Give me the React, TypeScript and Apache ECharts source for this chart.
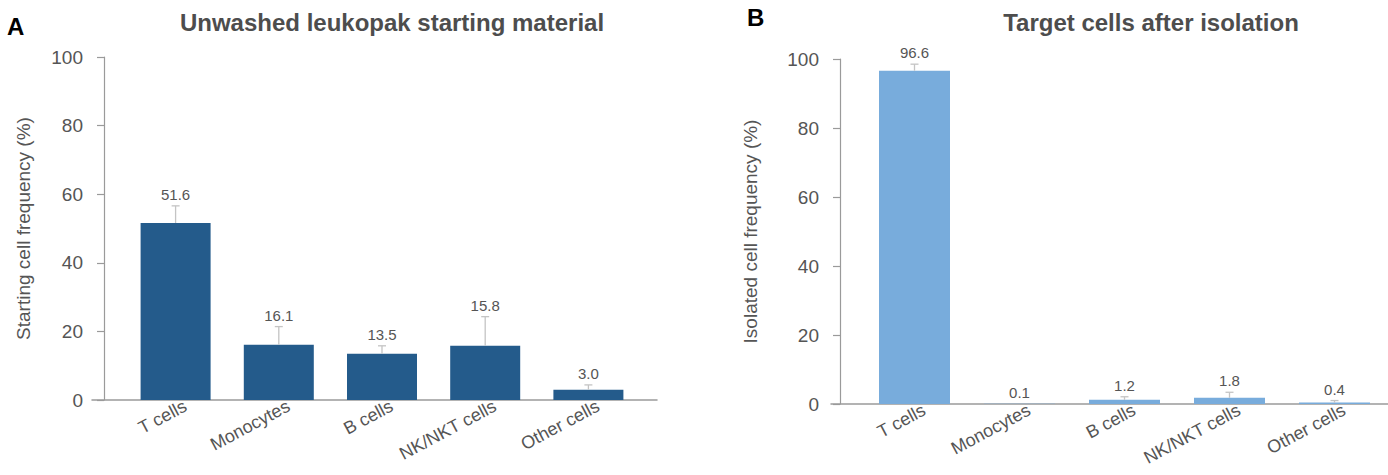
import React, { useEffect, useRef } from "react";
import * as echarts from "echarts";

const categories = ["T cells", "Monocytes", "B cells", "NK/NKT cells", "Other cells"];
const startValues = [51.6, 16.1, 13.5, 15.8, 3.0];
const startErrors = [5.0, 5.3, 2.3, 8.5, 1.4];
const isoValues = [96.6, 0.1, 1.2, 1.8, 0.4];
const isoErrors = [1.9, 0, 0.9, 1.6, 0.6];
const titleA = "Unwashed leukopak starting material";
const titleB = "Target cells after isolation";
const yNameA = "Starting cell frequency (%)";
const yNameB = "Isolated cell frequency (%)";
const yMin = 0;
const yMax = 100;
const yStep = 20;

const FONT = "'Liberation Sans', Arial, Helvetica, sans-serif";
const TXT = "#555";
const AX = "#9a9a9a";

function errSeries(values: number[], errors: number[], xi: number, yi: number) {
  return {
    type: "custom",
    xAxisIndex: xi,
    yAxisIndex: yi,
    z: 5,
    data: values.map((v, i) => [i, v, errors[i]]),
    renderItem: (params: any, api: any) => {
      const i = api.value(0);
      const v = api.value(1);
      const e = api.value(2);
      const p0 = api.coord([i, v]);
      const p1 = api.coord([i, v + e]);
      const children: any[] = [];
      if (e > 0) {
        children.push({
          type: "line",
          shape: { x1: p0[0], y1: p0[1], x2: p1[0], y2: p1[1] },
          style: { stroke: "#c4c4c4", lineWidth: 1.3 },
        });
        children.push({
          type: "line",
          shape: { x1: p1[0] - 4, y1: p1[1], x2: p1[0] + 4, y2: p1[1] },
          style: { stroke: "#c4c4c4", lineWidth: 1.3 },
        });
      }
      children.push({
        type: "text",
        x: p1[0],
        y: p1[1] - 4,
        style: {
          text: v.toFixed(1),
          textAlign: "center",
          textVerticalAlign: "bottom",
          fontSize: 15,
          fontFamily: FONT,
          fill: TXT,
        },
      });
      return { type: "group", children };
    },
  };
}

function valueY(gridIndex: number, name: string, offset: number, nameGap: number) {
  return {
    type: "value",
    gridIndex,
    min: yMin,
    max: yMax,
    interval: yStep,
    offset,
    name,
    nameLocation: "middle",
    nameGap,
    nameTextStyle: { fontSize: 19, color: TXT, fontFamily: FONT },
    axisLine: { show: true, lineStyle: { color: AX, width: 1.2 } },
    axisTick: { show: true, inside: false, length: 7, lineStyle: { color: AX, width: 1.2 } },
    axisLabel: { margin: 21, fontSize: 19, color: TXT, fontFamily: FONT },
    splitLine: { show: false },
  };
}

function catX(gridIndex: number) {
  return {
    type: "category",
    gridIndex,
    data: categories,
    axisLine: { show: false },
    axisTick: { show: false },
    axisLabel: {
      rotate: 28,
      margin: 10,
      fontSize: 18,
      color: TXT,
      fontFamily: FONT,
      interval: 0,
      padding: [0, -11, 0, 0],
    },
  };
}

function frameX(gridIndex: number) {
  return {
    type: "value",
    gridIndex,
    min: 0,
    max: 1,
    axisLine: { show: true, onZero: false, lineStyle: { color: AX, width: 1.5 } },
    axisTick: { show: false },
    axisLabel: { show: false },
    splitLine: { show: false },
  };
}

function hiddenY(gridIndex: number) {
  return { type: "value", gridIndex, min: 0, max: 1, show: false };
}

export default function App() {
  const ref = useRef<HTMLDivElement>(null);
  useEffect(() => {
    if (!ref.current) return;
    const chart = echarts.init(ref.current, undefined, { renderer: "svg" });
    chart.setOption({
      animation: false,
      backgroundColor: "#fff",
      textStyle: { fontFamily: FONT },
      grid: [
        { left: 124, top: 57, width: 516, height: 343 },
        { left: 92, top: 57, width: 565, height: 343 },
        { left: 862, top: 59, width: 525, height: 345 },
        { left: 831, top: 59, width: 557, height: 345 },
      ],
      xAxis: [catX(0), frameX(1), catX(2), frameX(3)],
      yAxis: [valueY(0, yNameA, 20, 71), hiddenY(1), valueY(2, yNameB, 22, 80), hiddenY(3)],
      graphic: [
        { type: "text", x: 7, y: 14, style: { text: "A", fontSize: 24, fontWeight: "bold", fill: "#000", fontFamily: FONT } },
        { type: "text", x: 747, y: 5, style: { text: "B", fontSize: 24, fontWeight: "bold", fill: "#000", fontFamily: FONT } },
        { type: "text", x: 392, y: 10, style: { text: titleA, textAlign: "center", fontSize: 24, fontWeight: "bold", fill: "#4d4d4d", fontFamily: FONT } },
        { type: "text", x: 1151, y: 10, style: { text: titleB, textAlign: "center", fontSize: 24, fontWeight: "bold", fill: "#4d4d4d", fontFamily: FONT } },
      ],
      series: [
        { type: "bar", xAxisIndex: 0, yAxisIndex: 0, barWidth: 70, data: startValues, itemStyle: { color: "#245b8b" } },
        errSeries(startValues, startErrors, 0, 0),
        { type: "bar", xAxisIndex: 2, yAxisIndex: 2, barWidth: 71, data: isoValues, itemStyle: { color: "#78acdc" } },
        errSeries(isoValues, isoErrors, 2, 2),
      ],
    });
    return () => chart.dispose();
  }, []);
  return <div ref={ref} style={{ position: "fixed", left: 0, top: 0, width: 1388, height: 475 }} />;
}
